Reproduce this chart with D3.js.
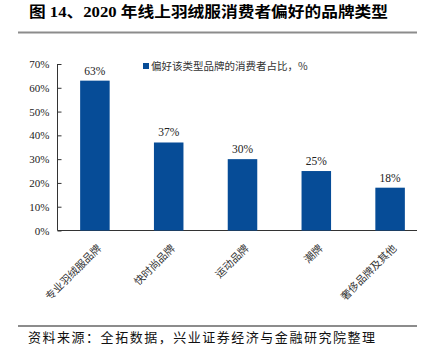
<!DOCTYPE html>
<html>
<head>
<meta charset="utf-8">
<script src="https://cdn.jsdelivr.net/npm/d3@7"></script>
<style>
  body { margin: 0; background: #fff; }
  svg { display: block; }
</style>
</head>
<body>
<svg id="chart" width="432" height="361"></svg>
<script>
// data
var categories = ["专业羽绒服品牌", "快时尚品牌", "运动品牌", "潮牌", "奢侈品牌及其他"];
var shares = [63, 37, 30, 25, 18];
var yTicks = [0, 10, 20, 30, 40, 50, 60, 70];
var seriesName = "偏好该类型品牌的消费者占比，%";

var svg = d3.select("#chart");
var serif = "'Liberation Serif', 'Times New Roman', serif";
var cjk = "'Noto Sans CJK SC', sans-serif";
var blue = "#064c97";

// title
svg.append("text")
    .attr("x", 29).attr("y", 17)
    .attr("font-family", serif + "," + cjk)
    .attr("font-weight", "bold")
    .attr("font-size", 15)
    .attr("textLength", 359)
    .attr("lengthAdjust", "spacingAndGlyphs")
    .text("图 14、2020 年线上羽绒服消费者偏好的品牌类型");

// top and bottom rules
[32.5, 326].forEach(function (y) {
    svg.append("line")
        .attr("x1", 18).attr("x2", 417)
        .attr("y1", y).attr("y2", y)
        .attr("stroke", "#8c8c8c")
        .attr("stroke-width", 2);
});

var x = d3.scaleBand()
    .domain(categories)
    .range([58, 427])
    .paddingInner(0.6)
    .paddingOuter(0.3);

var y = d3.scaleLinear()
    .domain([0, 70])
    .range([230.5, 64]);

// y axis, ticks point inward
var yAxis = svg.append("g")
    .attr("transform", "translate(57.5,0)")
    .call(d3.axisLeft(y).tickValues(yTicks).tickSize(-4).tickPadding(8)
        .tickFormat(function (d) { return d + "%"; }));
yAxis.select(".domain").attr("stroke", "#333").attr("d", "M0,64V230.5");
yAxis.selectAll(".tick line").attr("stroke", "#333");
yAxis.selectAll(".tick text")
    .attr("font-family", serif)
    .attr("font-size", 11)
    .attr("fill", "#222");

// x axis line
svg.append("line")
    .attr("x1", 57.5).attr("x2", 417)
    .attr("y1", 230.5).attr("y2", 230.5)
    .attr("stroke", "#333");

// bars
svg.append("g").selectAll("rect")
    .data(shares)
    .join("rect")
    .attr("x", function (d, i) { return x(categories[i]); })
    .attr("y", function (d) { return y(d); })
    .attr("width", x.bandwidth())
    .attr("height", function (d) { return y(0) - y(d); })
    .attr("fill", blue);

// value labels
svg.append("g").selectAll("text")
    .data(shares)
    .join("text")
    .attr("x", function (d, i) { return x(categories[i]) + x.bandwidth() / 2; })
    .attr("y", function (d) { return y(d) - 6; })
    .attr("text-anchor", "middle")
    .attr("font-family", serif)
    .attr("font-size", 11.5)
    .attr("fill", "#222")
    .text(function (d) { return d + "%"; });

// category labels, rotated
svg.append("g").selectAll("text")
    .data(categories)
    .join("text")
    .attr("transform", function (d) {
        return "translate(" + (x(d) + x.bandwidth() / 2 + 7) + ",249) rotate(-45)";
    })
    .attr("text-anchor", "end")
    .attr("font-family", cjk)
    .attr("font-size", 10.5)
    .attr("fill", "#333")
    .text(function (d) { return d; });

// legend
svg.append("rect")
    .attr("x", 143).attr("y", 63)
    .attr("width", 6).attr("height", 6)
    .attr("fill", blue);
svg.append("text")
    .attr("x", 151).attr("y", 70)
    .attr("font-family", cjk)
    .attr("font-size", 10.5)
    .attr("fill", "#333")
    .text(seriesName);

// source
svg.append("text")
    .attr("x", 28).attr("y", 342)
    .attr("font-family", cjk)
    .attr("font-size", 13)
    .attr("textLength", 347)
    .attr("lengthAdjust", "spacing")
    .attr("fill", "#111")
    .text("资料来源：全拓数据，兴业证券经济与金融研究院整理");
</script>
</body>
</html>
